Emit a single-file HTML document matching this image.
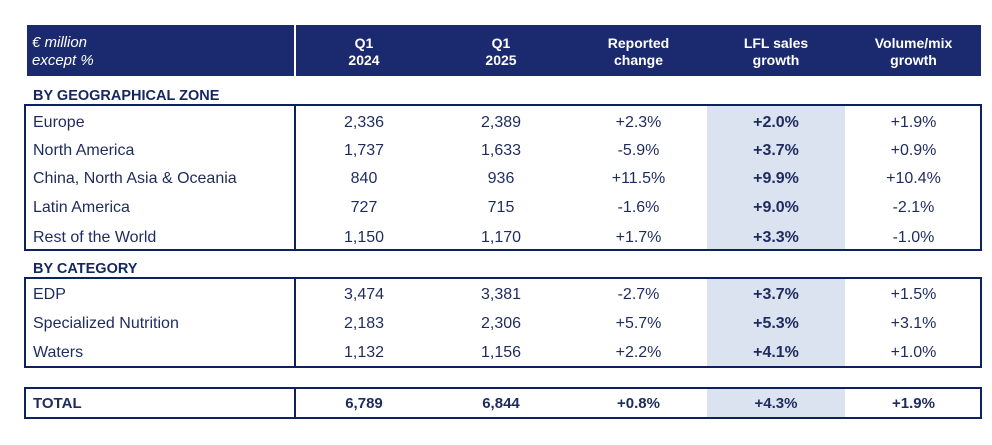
<!DOCTYPE html>
<html><head><meta charset="utf-8"><style>
*{margin:0;padding:0;box-sizing:border-box}
body{width:992px;height:445px;background:#fff;position:relative;overflow:hidden;font-family:"Liberation Sans",Arial,sans-serif;color:#1e2b5e}
.abs{position:absolute}
.hdr{position:absolute;background:#1b2a6e;top:25px;height:51px}
.ht{position:absolute;color:#fff;font-weight:bold;font-size:14px;line-height:17px;text-align:center;top:35px;width:137px}
.box{position:absolute;left:24px;width:958px;border:2px solid #0d2160}
.shade{position:absolute;left:707px;width:138px;background:#dce3f0}
.vdiv{position:absolute;left:294px;width:2px;background:#0d2160}
.row{position:absolute;left:0;width:992px;height:20px;line-height:20px;font-size:16px}
.row span{position:absolute;top:0;width:137px;text-align:center}
.row span.l{left:33px;width:auto;text-align:left}
.c1{left:295.5px}.c2{left:432.5px}.c3{left:570px}.c4{left:707.5px}.c5{left:845px}
.row span.c4{font-weight:bold}
.sec{position:absolute;left:33px;font-weight:bold;font-size:14.5px;height:20px;line-height:20px;color:#16275f}
.row.tot span{font-weight:bold;font-size:15px}
.row.tot span.c4{font-weight:bold}
</style></head><body>
<div class="hdr" style="left:27px;width:267px"></div>
<div class="hdr" style="left:296px;width:685px"></div>
<div class="abs" style="left:32px;top:34px;color:#fff;font-style:italic;font-size:15px;line-height:18px">€ million<br>except %</div>
<div class="ht" style="left:295.5px">Q1<br>2024</div>
<div class="ht" style="left:432.5px">Q1<br>2025</div>
<div class="ht" style="left:570px">Reported<br>change</div>
<div class="ht" style="left:707.5px">LFL sales<br>growth</div>
<div class="ht" style="left:845px">Volume/mix<br>growth</div>

<div class="sec" style="top:85.5px">BY GEOGRAPHICAL ZONE</div>
<div class="shade" style="top:106px;height:143px"></div>
<div class="box" style="top:104px;height:147px"></div>
<div class="vdiv" style="top:104px;height:147px"></div>
<div class="row" style="top:112.5px"><span class="l">Europe</span><span class="c1">2,336</span><span class="c2">2,389</span><span class="c3">+2.3%</span><span class="c4">+2.0%</span><span class="c5">+1.9%</span></div>
<div class="row" style="top:140.5px"><span class="l">North America</span><span class="c1">1,737</span><span class="c2">1,633</span><span class="c3">-5.9%</span><span class="c4">+3.7%</span><span class="c5">+0.9%</span></div>
<div class="row" style="top:168.5px"><span class="l">China, North Asia &amp; Oceania</span><span class="c1">840</span><span class="c2">936</span><span class="c3">+11.5%</span><span class="c4">+9.9%</span><span class="c5">+10.4%</span></div>
<div class="row" style="top:198px"><span class="l">Latin America</span><span class="c1">727</span><span class="c2">715</span><span class="c3">-1.6%</span><span class="c4">+9.0%</span><span class="c5">-2.1%</span></div>
<div class="row" style="top:227.5px"><span class="l">Rest of the World</span><span class="c1">1,150</span><span class="c2">1,170</span><span class="c3">+1.7%</span><span class="c4">+3.3%</span><span class="c5">-1.0%</span></div>

<div class="sec" style="top:258.5px">BY CATEGORY</div>
<div class="shade" style="top:279px;height:87px"></div>
<div class="box" style="top:277px;height:91px"></div>
<div class="vdiv" style="top:277px;height:91px"></div>
<div class="row" style="top:284.5px"><span class="l">EDP</span><span class="c1">3,474</span><span class="c2">3,381</span><span class="c3">-2.7%</span><span class="c4">+3.7%</span><span class="c5">+1.5%</span></div>
<div class="row" style="top:313.5px"><span class="l">Specialized Nutrition</span><span class="c1">2,183</span><span class="c2">2,306</span><span class="c3">+5.7%</span><span class="c4">+5.3%</span><span class="c5">+3.1%</span></div>
<div class="row" style="top:343px"><span class="l">Waters</span><span class="c1">1,132</span><span class="c2">1,156</span><span class="c3">+2.2%</span><span class="c4">+4.1%</span><span class="c5">+1.0%</span></div>

<div class="shade" style="top:389px;height:28px"></div>
<div class="box" style="top:387px;height:32px"></div>
<div class="vdiv" style="top:387px;height:32px"></div>
<div class="row tot" style="top:393.5px"><span class="l">TOTAL</span><span class="c1">6,789</span><span class="c2">6,844</span><span class="c3">+0.8%</span><span class="c4">+4.3%</span><span class="c5">+1.9%</span></div>
</body></html>
